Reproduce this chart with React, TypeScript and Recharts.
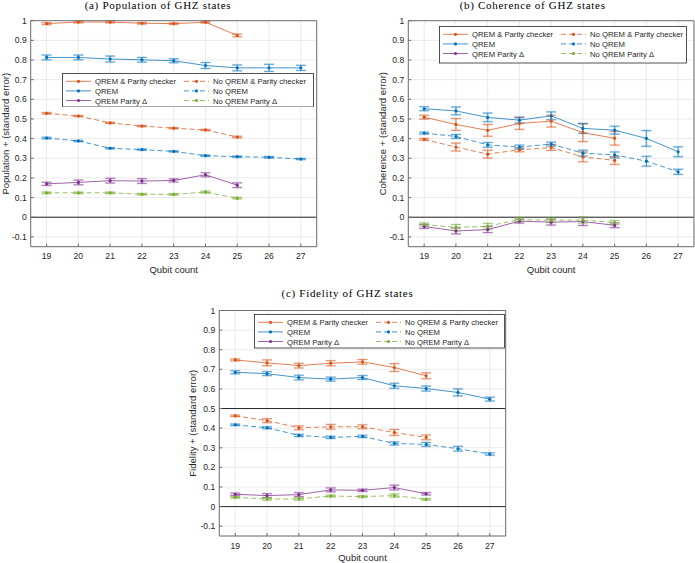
import React from 'react';
import {
  LineChart,
  Line,
  XAxis,
  YAxis,
  CartesianGrid,
  ErrorBar,
  ReferenceLine,
  Legend,
} from 'recharts';

const QUBITS = [19, 20, 21, 22, 23, 24, 25, 26, 27];
const Y_TICKS = [-0.1, 0, 0.1, 0.2, 0.3, 0.4, 0.5, 0.6, 0.7, 0.8, 0.9, 1];

// (a) population
const POP_QREM_PARITY = [0.985, 0.993, 0.993, 0.987, 0.985, 0.992, 0.925];
const POP_QREM_PARITY_ERR = [0.005, 0.004, 0.004, 0.004, 0.004, 0.004, 0.007];
const POP_QREM = [0.813, 0.813, 0.805, 0.801, 0.796, 0.772, 0.76, 0.76, 0.76];
const POP_QREM_ERR = [0.012, 0.012, 0.015, 0.012, 0.01, 0.015, 0.015, 0.018, 0.013];
const POP_QREM_DELTA = [0.17, 0.177, 0.186, 0.184, 0.187, 0.216, 0.163];
const POP_QREM_DELTA_ERR = [0.008, 0.012, 0.012, 0.012, 0.008, 0.01, 0.012];
const POP_RAW_PARITY = [0.529, 0.515, 0.48, 0.464, 0.453, 0.444, 0.408];
const POP_RAW_PARITY_ERR = [0.004, 0.003, 0.003, 0.003, 0.003, 0.003, 0.004];
const POP_RAW = [0.403, 0.388, 0.351, 0.344, 0.335, 0.313, 0.308, 0.305, 0.296];
const POP_RAW_ERR = [0.004, 0.003, 0.003, 0.003, 0.003, 0.003, 0.003, 0.004, 0.003];
const POP_RAW_DELTA = [0.124, 0.124, 0.124, 0.117, 0.116, 0.128, 0.097];
const POP_RAW_DELTA_ERR = [0.004, 0.004, 0.004, 0.004, 0.004, 0.005, 0.004];

// (b) coherence
const COH_QREM_PARITY = [0.509, 0.472, 0.442, 0.477, 0.489, 0.43, 0.402];
const COH_QREM_PARITY_ERR = [0.01, 0.03, 0.03, 0.03, 0.03, 0.045, 0.035];
const COH_QREM = [0.552, 0.541, 0.508, 0.494, 0.516, 0.452, 0.443, 0.401, 0.333];
const COH_QREM_ERR = [0.01, 0.02, 0.022, 0.015, 0.02, 0.025, 0.02, 0.04, 0.025];
const COH_QREM_DELTA = [-0.047, -0.07, -0.063, -0.02, -0.025, -0.022, -0.041];
const COH_QREM_DELTA_ERR = [0.01, 0.015, 0.015, 0.01, 0.015, 0.02, 0.012];
const COH_RAW_PARITY = [0.396, 0.357, 0.321, 0.343, 0.355, 0.307, 0.289];
const COH_RAW_PARITY_ERR = [0.005, 0.02, 0.02, 0.01, 0.015, 0.025, 0.02];
const COH_RAW = [0.428, 0.411, 0.368, 0.357, 0.372, 0.326, 0.317, 0.285, 0.231];
const COH_RAW_ERR = [0.005, 0.01, 0.012, 0.01, 0.01, 0.015, 0.015, 0.025, 0.013];
const COH_RAW_DELTA = [-0.037, -0.052, -0.046, -0.012, -0.015, -0.015, -0.027];
const COH_RAW_DELTA_ERR = [0.008, 0.015, 0.015, 0.01, 0.012, 0.015, 0.01];

// (c) fidelity
const FID_QREM_PARITY = [0.748, 0.733, 0.719, 0.731, 0.738, 0.709, 0.667];
const FID_QREM_PARITY_ERR = [0.005, 0.015, 0.012, 0.013, 0.012, 0.02, 0.015];
const FID_QREM = [0.685, 0.678, 0.658, 0.65, 0.658, 0.616, 0.602, 0.582, 0.548];
const FID_QREM_ERR = [0.008, 0.01, 0.012, 0.01, 0.01, 0.013, 0.013, 0.018, 0.01];
const FID_QREM_DELTA = [0.063, 0.056, 0.061, 0.085, 0.083, 0.097, 0.065];
const FID_QREM_DELTA_ERR = [0.006, 0.01, 0.01, 0.01, 0.006, 0.012, 0.006];
const FID_RAW_PARITY = [0.463, 0.438, 0.402, 0.407, 0.407, 0.378, 0.353];
const FID_RAW_PARITY_ERR = [0.004, 0.01, 0.01, 0.012, 0.01, 0.015, 0.012];
const FID_RAW = [0.417, 0.402, 0.363, 0.353, 0.358, 0.322, 0.317, 0.295, 0.268];
const FID_RAW_ERR = [0.004, 0.005, 0.006, 0.006, 0.006, 0.008, 0.01, 0.012, 0.006];
const FID_RAW_DELTA = [0.047, 0.039, 0.039, 0.054, 0.051, 0.056, 0.037];
const FID_RAW_DELTA_ERR = [0.004, 0.006, 0.006, 0.005, 0.005, 0.008, 0.004];

// legend order: first column solid, second column dashed
const SERIES = [
  { name: 'QREM & Parity checker', color: '#D95319', dashed: false },
  { name: 'QREM', color: '#0072BD', dashed: false },
  { name: 'QREM Parity \u0394', color: '#7E2F8E', dashed: false },
  { name: 'No QREM & Parity checker', color: '#D95319', dashed: true },
  { name: 'No QREM', color: '#0072BD', dashed: true },
  { name: 'No QREM Parity \u0394', color: '#77AC30', dashed: true },
];

const DASH = '5 3';
const FONT = "'Liberation Sans', Arial, Helvetica, sans-serif";
const SERIF = "'Liberation Serif', 'Times New Roman', serif";
const AXIS = '#6e6e6e';
const TEXT = '#262626';

function buildRows(values: number[][], errors: number[][]) {
  return QUBITS.map((q, i) => {
    const row: Record<string, number | null> = { q };
    values.forEach((v, s) => {
      row[`v${s}`] = v[i] ?? null;
      row[`e${s}`] = errors[s][i] ?? null;
    });
    return row;
  });
}

const POP_ROWS = buildRows(
  [POP_QREM_PARITY, POP_QREM, POP_QREM_DELTA, POP_RAW_PARITY, POP_RAW, POP_RAW_DELTA],
  [POP_QREM_PARITY_ERR, POP_QREM_ERR, POP_QREM_DELTA_ERR, POP_RAW_PARITY_ERR, POP_RAW_ERR, POP_RAW_DELTA_ERR]
);
const COH_ROWS = buildRows(
  [COH_QREM_PARITY, COH_QREM, COH_QREM_DELTA, COH_RAW_PARITY, COH_RAW, COH_RAW_DELTA],
  [COH_QREM_PARITY_ERR, COH_QREM_ERR, COH_QREM_DELTA_ERR, COH_RAW_PARITY_ERR, COH_RAW_ERR, COH_RAW_DELTA_ERR]
);
const FID_ROWS = buildRows(
  [FID_QREM_PARITY, FID_QREM, FID_QREM_DELTA, FID_RAW_PARITY, FID_RAW, FID_RAW_DELTA],
  [FID_QREM_PARITY_ERR, FID_QREM_ERR, FID_QREM_DELTA_ERR, FID_RAW_PARITY_ERR, FID_RAW_ERR, FID_RAW_DELTA_ERR]
);

const LegendBox = ({ width, height }: { width: number; height: number }) => (
  <svg width={width} height={height} style={{ display: 'block' }}>
    <rect x={0.5} y={0.5} width={width - 1} height={height - 1} fill="#fff" stroke={TEXT} strokeWidth={0.8} />
    {SERIES.map((s, i) => {
      const col = Math.floor(i / 3);
      const y = 8.3 + (i % 3) * 9.6;
      const x0 = col === 0 ? 4 : 122;
      return (
        <g key={s.name}>
          <line
            x1={x0}
            x2={x0 + 25}
            y1={y}
            y2={y}
            stroke={s.color}
            strokeOpacity={0.75}
            strokeWidth={1}
            strokeDasharray={s.dashed ? DASH : undefined}
          />
          <circle cx={x0 + 12.5} cy={y} r={1.6} fill={s.color} />
          <text x={x0 + 29} y={y + 3} fontSize={7.7} fill={TEXT} fontFamily={FONT}>
            {s.name}
          </text>
        </g>
      );
    })}
  </svg>
);

interface PanelProps {
  title: string;
  titleX: number;
  titleY: number;
  yLabel: string;
  rows: Record<string, number | null>[];
  left: number;
  top: number;
  width: number;
  height: number;
  plotLeft: number;
  plotTop: number;
  plotRight: number;
  plotBottom: number;
  yLabelX: number;
  xLabelBaseline: number;
  legend: { left: number; top: number; width: number; height: number };
  refLines: number[];
}

const Panel = (p: PanelProps) => {
  const margin = {
    top: p.plotTop - 1,
    right: p.width - p.plotRight - 1,
    left: 0,
    bottom: 0,
  };
  const xAxisHeight = p.height - p.plotBottom;
  return (
    <>
      <div
        style={{
          position: 'absolute',
          left: p.titleX - 120,
          top: p.titleY - 9.2,
          width: 240,
          textAlign: 'center',
          fontFamily: SERIF,
          fontSize: 11,
          lineHeight: '11px',
          letterSpacing: 0.7,
          color: '#000',
          whiteSpace: 'nowrap',
        }}
      >
        {p.title}
      </div>
      <div style={{ position: 'absolute', left: p.left, top: p.top, width: p.width, height: p.height }}>
        <LineChart width={p.width} height={p.height} data={p.rows} margin={margin}>
          <CartesianGrid stroke="#e4e4e4" strokeWidth={0.8} />
          <XAxis
            dataKey="q"
            type="number"
            domain={[18.5, 27.5]}
            ticks={QUBITS}
            interval={0}
            allowDataOverflow
            height={xAxisHeight}
            stroke={AXIS}
            tickSize={-3}
            tickMargin={9.6}
            tick={{ fontSize: 8.6, fill: TEXT, fontFamily: FONT }}
            label={{
              value: 'Qubit count',
              position: 'insideBottom',
              offset: p.height - p.xLabelBaseline,
              style: { fontSize: 9.5, fill: TEXT, fontFamily: FONT },
            }}
          />
          <XAxis
            xAxisId="top"
            orientation="top"
            type="number"
            domain={[18.5, 27.5]}
            ticks={QUBITS}
            interval={0}
            allowDataOverflow
            height={1}
            stroke={AXIS}
            tickSize={-3}
            tick={false}
          />
          <YAxis
            type="number"
            domain={[-0.15, 1]}
            ticks={Y_TICKS}
            interval={0}
            allowDataOverflow
            width={p.plotLeft}
            stroke={AXIS}
            tickSize={-3}
            tickMargin={7}
            tickFormatter={(v: number) => String(Math.round(v * 10) / 10)}
            tick={{ fontSize: 8.6, fill: TEXT, fontFamily: FONT }}
            label={{
              value: p.yLabel,
              angle: -90,
              position: 'insideLeft',
              offset: p.yLabelX,
              style: { textAnchor: 'middle', fontSize: 9.5, fill: TEXT, fontFamily: FONT },
            }}
          />
          <YAxis
            yAxisId="right"
            orientation="right"
            type="number"
            domain={[-0.15, 1]}
            ticks={Y_TICKS}
            interval={0}
            allowDataOverflow
            width={1}
            stroke={AXIS}
            tickSize={-3}
            tick={false}
          />
          {p.refLines.map((v) => (
            <ReferenceLine key={v} y={v} stroke={TEXT} strokeWidth={1} />
          ))}
          {SERIES.map((s, i) => (
            <Line
              key={s.name}
              dataKey={`v${i}`}
              name={s.name}
              stroke={s.color}
              strokeOpacity={0.75}
              strokeWidth={1}
              strokeDasharray={s.dashed ? DASH : undefined}
              dot={{ r: 1.6, fill: s.color, stroke: 'none' }}
              activeDot={false}
              connectNulls={false}
              isAnimationActive={false}
            >
              <ErrorBar
                dataKey={`e${i}`}
                direction="y"
                width={5}
                stroke={s.color}
                strokeOpacity={0.18}
                strokeWidth={2.2}
                isAnimationActive={false}
              />
              <ErrorBar
                dataKey={`e${i}`}
                direction="y"
                width={5}
                stroke={s.color}
                strokeOpacity={0.8}
                strokeWidth={0.7}
                isAnimationActive={false}
              />
            </Line>
          ))}
          <Legend
            layout="horizontal"
            verticalAlign="middle"
            align="center"
            wrapperStyle={{
              left: p.legend.left,
              top: p.legend.top,
              width: p.legend.width,
              height: p.legend.height,
            }}
            content={() => <LegendBox width={p.legend.width} height={p.legend.height} />}
          />
        </LineChart>
      </div>
    </>
  );
};

export default function App() {
  return (
    <div
      style={{
        position: 'absolute',
        left: 0,
        top: 0,
        width: 695,
        height: 563,
        background: '#fff',
        fontFamily: FONT,
        overflow: 'hidden',
      }}
    >
      <Panel
        title="(a) Population of GHZ states"
        titleX={158}
        titleY={8.7}
        yLabel="Population + (standard error)"
        rows={POP_ROWS}
        left={0}
        top={0}
        width={345}
        height={280}
        plotLeft={30.7}
        plotTop={20.7}
        plotRight={316.7}
        plotBottom={246.7}
        yLabelX={6}
        xLabelBaseline={272.7}
        legend={{ left: 61.7, top: 72.7, width: 252, height: 34.5 }}
        refLines={[0]}
      />
      <Panel
        title="(b) Coherence of GHZ states"
        titleX={532.7}
        titleY={8.7}
        yLabel="Coherence + (standard error)"
        rows={COH_ROWS}
        left={350}
        top={0}
        width={345}
        height={280}
        plotLeft={58.3}
        plotTop={20.7}
        plotRight={344}
        plotBottom={246.7}
        yLabelX={33}
        xLabelBaseline={272.7}
        legend={{ left: 89.3, top: 26, width: 248, height: 37.5 }}
        refLines={[0]}
      />
      <Panel
        title="(c) Fidelity of GHZ states"
        titleX={347.5}
        titleY={297}
        yLabel="Fidelity + (standard error)"
        rows={FID_ROWS}
        left={180}
        top={280}
        width={345}
        height={283}
        plotLeft={39.3}
        plotTop={30.5}
        plotRight={325.7}
        plotBottom={256}
        yLabelX={12.5}
        xLabelBaseline={280.5}
        legend={{ left: 74, top: 34.3, width: 251, height: 34.5 }}
        refLines={[0, 0.5]}
      />
    </div>
  );
}
